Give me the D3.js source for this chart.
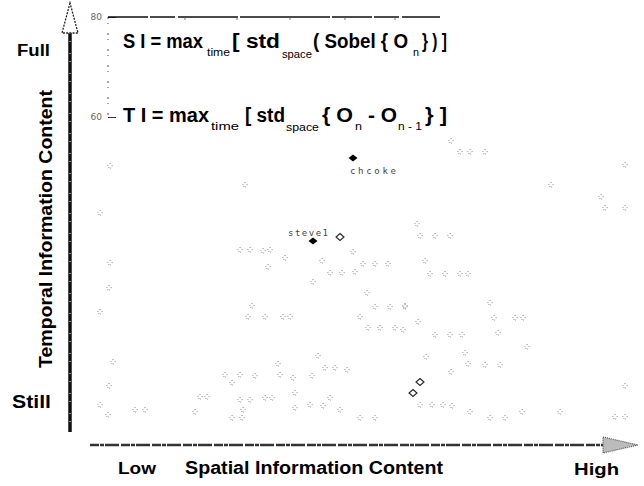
<!DOCTYPE html>
<html><head><meta charset="utf-8">
<script src="https://cdn.jsdelivr.net/npm/d3@7"></script>
<style>body{margin:0;background:#fff} svg{display:block}</style>
</head><body>
<script>
// ---- data (SI = spatial information, TI = temporal information, arbitrary units) ----
const clipSI = [175.5,180,185,192.5,262.5,225.5,250.5,252.5,262.5,158.5,160,167.5,175,
  0,5,4.5,0,6.5,4.5,5,72.5,70,75,81.5,85,92.5,84,106.5,111,126.5,131.5,137.5,144,162.5,
  115,121,127.5,165,172.5,180,184,133.5,137.5,145,152.5,130,134,140,147.5,151.5,159,
  167.5,175,181,76,74,82.5,91.5,95,152.5,195,197,207.5,211.5,199,213.5,182.5,163,184,
  192.5,200,175.5,160,166,171.5,176,185,195,202.5,211,230,262.5,257.5,262.5,109,89,90,
  96.5,106,112.5,117.5,123.5,62.5,70,77.5,66,50,53.5,70,75,82.5,86,97.5,115,105,111.5,
  97.5,120,47.5,71.5,66,71,130,137.5,0,4,17.5,22.5];
const clipTI = [149.5,144,144,144,137.5,127.5,121.5,116,116,108,102,102,102,
  113.5,88.5,76,64,39,27,137,127.5,95,95,94.5,95,91,86.5,79,89.5,94,88,88,88,89.5,
  83.5,83.5,84,83,83,83,83,73.5,66.5,66.5,66.5,61.5,56,56,56,55,59,
  52.5,52.5,52.5,67,61.5,61.5,61.5,61.5,67,68.5,61,61,61,53.5,46.5,43.5,41.5,38,
  37.5,37.5,34,17.5,17.5,17.5,17,14,11,11,14,14,27,11.5,11.5,42,38,32.5,
  31,32,36,36,35,32.5,32.5,32,28.5,21.5,21.5,20,20,21,21,23.5,21,17.5,17,
  16,15,14,15,11,11,11,11,17.5,12.5,15,15];
const namedClips = ["chcoke", "steve1"];
const namedSI = [126.5, 106.5];
const namedTI = [141, 99.5];
const markedSI = [120, 160, 156.5];
const markedTI = [101.5, 29, 23.5];
const frameTicks = [60, 80];
const yEnds = ["Full", "Still"];
const xEnds = ["Low", "High"];
const xTitle = "Spatial Information Content";
const yTitle = "Temporal Information Content";

const W = 644, H = 486;
const svg = d3.select("body").append("svg").attr("width", W).attr("height", H)
  .style("font-family", "'Liberation Sans', Arial, sans-serif");

const x = d3.scaleLinear().domain([0, 260]).range([100, 620]);
const y = d3.scaleLinear().domain([0, 200]).range([440, 40]);
const diamond = (cx, cy, w, h) => `M${cx},${cy - h}L${cx + w},${cy}L${cx},${cy + h}L${cx - w},${cy}Z`;

// ---- faint frame with 60 / 80 ticks (residue of the original plot) ----
const fy = d3.scaleLinear().domain([60, 80]).range([117, 17]);
const fAxis = svg.append("g").attr("transform", "translate(108,0)")
  .call(d3.axisLeft(fy).tickValues(frameTicks).tickSizeInner(-8).tickSizeOuter(0).tickPadding(6));
fAxis.select(".domain").remove();
fAxis.selectAll("line").attr("stroke", "#333").attr("stroke-width", 1);
fAxis.selectAll("text").attr("font-family", "'DejaVu Sans', sans-serif").attr("font-size", 9).attr("fill", "#666");
svg.append("line").attr("x1", 108).attr("x2", 108).attr("y1", fy(80)).attr("y2", fy(60))
  .attr("stroke", "#555").attr("stroke-width", 1).attr("stroke-dasharray", "2 4 1 9");
svg.append("line").attr("x1", 108).attr("x2", 440).attr("y1", fy(80)).attr("y2", fy(80))
  .attr("stroke", "#111").attr("stroke-width", 1.4).attr("stroke-dasharray", "40 2 25 3 60 2 90 2");
[185, 237, 290, 345, 395].forEach(t => svg.append("line").attr("x1", t).attr("x2", t)
  .attr("y1", fy(80)).attr("y2", fy(80) + 3).attr("stroke", "#555").attr("stroke-width", 0.8));

// ---- formulas (one text element per formula, pieces as tspans) ----
function formula(pieces) {
  const t = svg.append("text").attr("fill", "#000");
  pieces.forEach(([txt, px, py, size, weight, len]) => {
    t.append("tspan").attr("x", px).attr("y", py).attr("font-size", size)
      .attr("font-weight", weight).attr("textLength", len)
      .attr("lengthAdjust", "spacingAndGlyphs").text(txt);
  });
}
formula([
  ["S I = max", 123, 48, 20, "bold", 80],
  ["time", 207, 56, 11, "normal", 23],
  ["[ std", 232, 48, 20, "bold", 48],
  ["space", 282, 58, 11, "normal", 30],
  ["( Sobel { O", 313, 48, 20, "bold", 95],
  ["n", 413, 56, 11, "normal", 6],
  ["} ) ]", 422, 48, 20, "bold", 25]
]);
formula([
  ["T I = max", 123, 122, 20, "bold", 86],
  ["time", 211, 130, 11, "normal", 28],
  ["[ std", 245, 122, 20, "bold", 40],
  ["space", 286, 131, 11, "normal", 33],
  ["{ O", 322, 122, 20, "bold", 31],
  ["n", 355, 130, 11, "normal", 7],
  ["- O", 368, 122, 20, "bold", 29],
  ["n - 1", 398, 130, 11, "normal", 24],
  ["} ]", 425, 122, 20, "bold", 22]
]);

// ---- clip points ----
const clips = clipSI.map((s, i) => ({ si: s, ti: clipTI[i] }));
svg.append("g").selectAll("path").data(clips).join("path")
  .attr("d", d => diamond(x(d.si), y(d.ti), 2.6, 2.6))
  .attr("fill", "none").attr("stroke", "#444").attr("stroke-width", 0.9)
  .attr("stroke-dasharray", "0.9 2");

const marked = markedSI.map((s, i) => ({ si: s, ti: markedTI[i] }));
svg.append("g").selectAll("path").data(marked).join("path")
  .attr("d", d => diamond(x(d.si), y(d.ti), 4, 3.5))
  .attr("fill", "none").attr("stroke", "#222").attr("stroke-width", 1.1);

const named = namedClips.map((n, i) => ({ name: n, si: namedSI[i], ti: namedTI[i] }));
svg.append("g").selectAll("path").data(named).join("path")
  .attr("d", d => diamond(x(d.si), y(d.ti), 4.5, 3.6)).attr("fill", "#000");
svg.append("g").selectAll("text").data(named).join("text")
  .attr("x", d => d.name === "steve1" ? x(d.si) - 25 : x(d.si) - 3)
  .attr("y", d => d.name === "steve1" ? y(d.ti) - 5 : y(d.ti) + 16)
  .attr("font-family", "'DejaVu Sans Mono', monospace").attr("font-size", 9).attr("fill", "#444")
  .attr("textLength", d => d.name === "steve1" ? 40 : 46).attr("lengthAdjust", "spacing")
  .text(d => d.name);

// ---- big arrows ----
svg.append("line").attr("x1", 70).attr("x2", 70).attr("y1", 33).attr("y2", 432)
  .attr("stroke", "#111").attr("stroke-width", 3.5);
svg.append("line").attr("x1", 70).attr("x2", 70).attr("y1", 33).attr("y2", 432)
  .attr("stroke", "#fff").attr("stroke-width", 1).attr("stroke-dasharray", "1 7 1 11");
svg.append("path").attr("d", "M70,3L62,33L78,33Z").attr("fill", "#fff")
  .attr("stroke", "#222").attr("stroke-width", 1.3).attr("stroke-dasharray", "2 1.2");
svg.append("line").attr("x1", 90).attr("x2", 604).attr("y1", 445).attr("y2", 445)
  .attr("stroke", "#333").attr("stroke-width", 2.4).attr("stroke-dasharray", "9 1 4 1 14 2");
svg.append("path").attr("d", "M603,437L638,445L603,453Z").attr("fill", "#bbb")
  .attr("stroke", "#555").attr("stroke-width", 1.2).attr("stroke-dasharray", "1 1");

// ---- axis words ----
const bold = (t, px, py, size, len, anchor) => svg.append("text").attr("x", px).attr("y", py)
  .attr("font-size", size).attr("font-weight", "bold").attr("fill", "#000")
  .attr("text-anchor", anchor || "start")
  .attr("textLength", len).attr("lengthAdjust", "spacingAndGlyphs").text(t);
bold(yEnds[0], 17, 56, 16, 33);
bold(yEnds[1], 12, 408, 19, 39);
bold(xEnds[0], 118, 474, 17, 38);
bold(xEnds[1], 574, 475, 16, 45);
bold(xTitle, 185, 474, 18, 258);
svg.append("text").attr("transform", "translate(52,229) rotate(-90)")
  .attr("text-anchor", "middle").attr("font-size", 18).attr("font-weight", "bold")
  .attr("textLength", 278).attr("lengthAdjust", "spacingAndGlyphs").text(yTitle);
</script>
</body></html>
